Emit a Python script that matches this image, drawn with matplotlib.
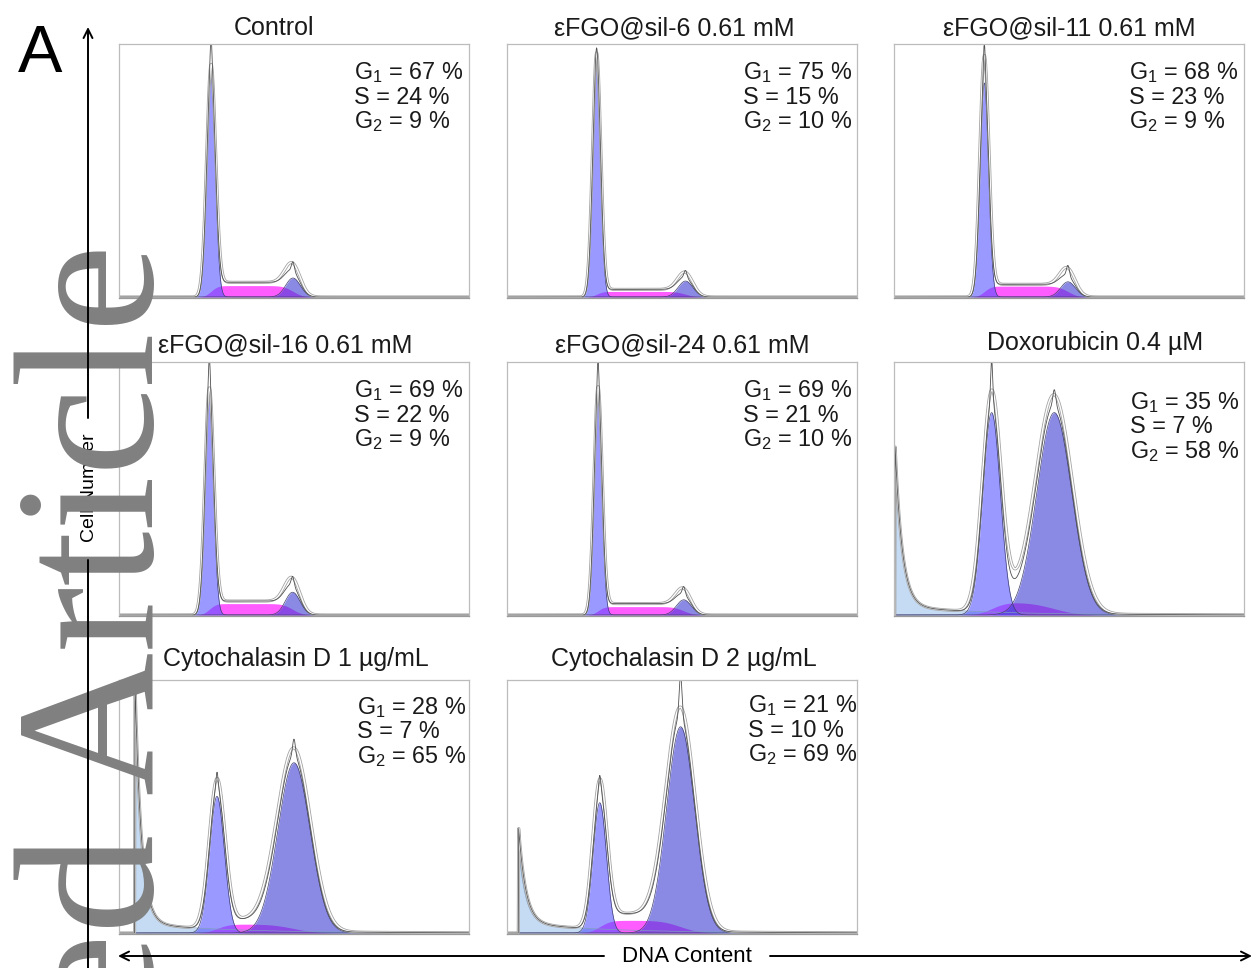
import numpy as np
import matplotlib
matplotlib.use("Agg")
import matplotlib.pyplot as plt
from matplotlib.patches import FancyArrowPatch
from math import erf

plt.rcParams['font.family'] = ['Liberation Sans', 'DejaVu Sans']
plt.rcParams['mathtext.default'] = 'regular'

# panel titles and cell cycle percentages
titles = ["Control", "εFGO@sil-6 0.61 mM", "εFGO@sil-11 0.61 mM",
          "εFGO@sil-16 0.61 mM", "εFGO@sil-24 0.61 mM", "Doxorubicin 0.4 µM",
          "Cytochalasin D 1 µg/mL", "Cytochalasin D 2 µg/mL"]
g1_pct = [67, 75, 68, 69, 69, 35, 28, 21]
s_pct = [24, 15, 23, 22, 21, 7, 7, 10]
g2_pct = [9, 10, 9, 9, 10, 58, 65, 69]

# fitted peaks (x = fraction of DNA channel range, y = fraction of panel height)
g1_pos = [0.263, 0.256, 0.258, 0.258, 0.260, 0.279, 0.280, 0.265]
g1_height = [0.875, 0.940, 0.846, 0.853, 0.866, 0.800, 0.540, 0.515]
g1_sd = [0.012, 0.011, 0.012, 0.012, 0.011, 0.025, 0.021, 0.019]
g2_pos = [0.497, 0.510, 0.497, 0.496, 0.505, 0.458, 0.500, 0.496]
g2_height = [0.075, 0.063, 0.060, 0.090, 0.060, 0.800, 0.673, 0.815]
g2_sd = [0.021, 0.021, 0.021, 0.021, 0.021, 0.050, 0.046, 0.040]
s_height = [0.045, 0.022, 0.043, 0.045, 0.033, 0.050, 0.035, 0.050]

# model fit outline and raw histogram maxima
fit_g1 = [0.890, 0.950, 0.930, 0.870, 0.880, 0.850, 0.575, 0.560]
fit_g2 = [0.105, 0.083, 0.090, 0.120, 0.083, 0.840, 0.705, 0.854]
fit_s = [0.058, 0.030, 0.050, 0.055, 0.045, 0.050, 0.040, 0.065]
raw_g1 = [0.990, 0.970, 0.976, 0.990, 0.976, 0.970, 0.600, 0.575]
raw_g2 = [0.110, 0.090, 0.100, 0.125, 0.090, 0.860, 0.740, 0.980]

# sub-G1 debris
debris_x0 = [0.0, 0.0, 0.0, 0.0, 0.0, 0.003, 0.045, 0.033]
debris_h = [0.0, 0.0, 0.0, 0.0, 0.0, 0.63, 0.95, 0.30]
debris_line = [0.0, 0.0, 0.0, 0.0, 0.0, 0.64, 0.99, 0.38]
debris_decay = [0.02, 0.02, 0.02, 0.02, 0.02, 0.020, 0.018, 0.020]
debris_tail = [0.0, 0.0, 0.0, 0.0, 0.0, 0.035, 0.040, 0.040]

# layout (pixels)
W, H = 1256, 968
col_left = [119, 507, 894]
row_top = [44, 362, 680]
pw, ph = 350, 254
title_dx = [-20, -8, 0, -9, 0, 26, 2, 2]
title_gap = [9, 9, 9, 10, 10, 12, 14, 14]
annot_x = [0.672, 0.675, 0.672, 0.672, 0.675, 0.675, 0.68, 0.69]
annot_y = [0.86, 0.86, 0.86, 0.86, 0.86, 0.815, 0.866, 0.872]


def fx(px):
    return px / W


def fy(py):
    return 1 - py / H


verf = np.vectorize(erf)


def gauss(x, c, h, s):
    return h * np.exp(-0.5 * ((x - c) / s) ** 2)


def plateau(x, c1, s1, c2, s2, h):
    return h * 0.5 * (verf((x - c1) / (np.sqrt(2) * s1)) - verf((x - c2) / (np.sqrt(2) * s2)))


def debris(x, x0, h, d, tail):
    return np.where(x >= x0, h * np.exp(-(x - x0) / d) + tail * np.exp(-(x - x0) / 0.25), 0.0)


fig = plt.figure(figsize=(W / 100, H / 100), dpi=100)
x = np.linspace(0, 1, 900)

for i in range(8):
    r, c = divmod(i, 3)
    left, top = col_left[c], row_top[r]
    ax = fig.add_axes([fx(left), fy(top + ph), pw / W, ph / H])

    deb = debris(x, debris_x0[i], debris_h[i], debris_decay[i], debris_tail[i])
    deb_fit = debris(x, debris_x0[i], debris_line[i], debris_decay[i], debris_tail[i])
    g1 = gauss(x, g1_pos[i], g1_height[i], g1_sd[i])
    g2 = gauss(x, g2_pos[i], g2_height[i], g2_sd[i])
    s = plateau(x, g1_pos[i], g1_sd[i] * 1.3, g2_pos[i], g2_sd[i] * 1.1, s_height[i])
    s_line = plateau(x, g1_pos[i], g1_sd[i] * 1.3, g2_pos[i], g2_sd[i] * 1.1, fit_s[i])

    fit = (deb_fit + gauss(x, g1_pos[i], fit_g1[i], g1_sd[i] * 1.08)
           + gauss(x, g2_pos[i], fit_g2[i], g2_sd[i] * 1.05) + s_line)
    raw = (deb_fit + g1 + g2 + s_line
           + gauss(x, g1_pos[i], raw_g1[i] - g1_height[i], 0.003)
           + gauss(x, g2_pos[i], raw_g2[i] - g2_height[i], 0.004))

    if debris_h[i] > 0:
        ax.fill_between(x, 0, deb, color='#c4dbf3', lw=0)
        ax.plot(x, deb, color='#7d9cbc', lw=0.5)
    ax.fill_between(x, 0, s, color='#ff5cff', lw=0)
    ax.fill_between(x, 0, g1, color='#5050ff', alpha=0.58, lw=0)
    ax.fill_between(x, 0, g2, color='#3c3cd2', alpha=0.6, lw=0)
    ax.plot(x, g1, color='#404070', lw=0.5)
    ax.plot(x, g2, color='#404070', lw=0.5)
    ax.plot(x, fit, color='#a4a4a4', lw=2.2)
    ax.plot(x, fit, color='white', lw=1.0)
    ax.plot(x, raw, color='#505050', lw=0.6)

    ax.set_xlim(0, 1)
    ax.set_ylim(-0.004, 1.0)
    ax.set_xticks([])
    ax.set_yticks([])
    for sp in ax.spines.values():
        sp.set_color('#bcbcbc')
        sp.set_linewidth(0.9)
    ax.spines['bottom'].set_color('#9a9a9a')

    labels = ["G$_1$ = %d %%" % g1_pct[i], "S = %d %%" % s_pct[i], "G$_2$ = %d %%" % g2_pct[i]]
    for k, lab in enumerate(labels):
        ax.text(annot_x[i], annot_y[i] - k * 0.096, lab, transform=ax.transAxes,
                ha='left', va='baseline', fontsize=16.8, color='#1a1a1a')

    fig.text(fx(left + pw / 2 + title_dx[i]), fy(top - title_gap[i]), titles[i],
             ha='center', va='baseline', fontsize=18, color='#1a1a1a')

# panel letter and axis labels
fig.text(fx(18), fy(72), "A", fontsize=48, va='baseline', ha='left')
fig.text(fx(90), fy(488), "Cell Number", rotation=90, ha='center', va='center',
         fontsize=14, zorder=1)

# journal watermark
fig.text(fx(153), fy(244), "Accepted Article", rotation=90, rotation_mode='anchor',
         ha='right', va='baseline', fontsize=143, family='Liberation Serif',
         color='#808080', zorder=2)

# axis arrows
arrow_kw = dict(transform=fig.transFigure, color='black', lw=1.4, mutation_scale=16,
                shrinkA=0, shrinkB=0, zorder=3)
fig.add_artist(FancyArrowPatch((fx(88), fy(968)), (fx(88), fy(560)), arrowstyle='-', **arrow_kw))
fig.add_artist(FancyArrowPatch((fx(88), fy(418)), (fx(88), fy(27)), arrowstyle='->', **arrow_kw))
fig.add_artist(FancyArrowPatch((fx(604), fy(956)), (fx(118), fy(956)), arrowstyle='->', **arrow_kw))
fig.add_artist(FancyArrowPatch((fx(770), fy(956)), (fx(1252), fy(956)), arrowstyle='->', **arrow_kw))
fig.text(fx(687), fy(956), "DNA Content", ha='center', va='center', fontsize=16, zorder=3)

fig.savefig("out.png", dpi=100)
